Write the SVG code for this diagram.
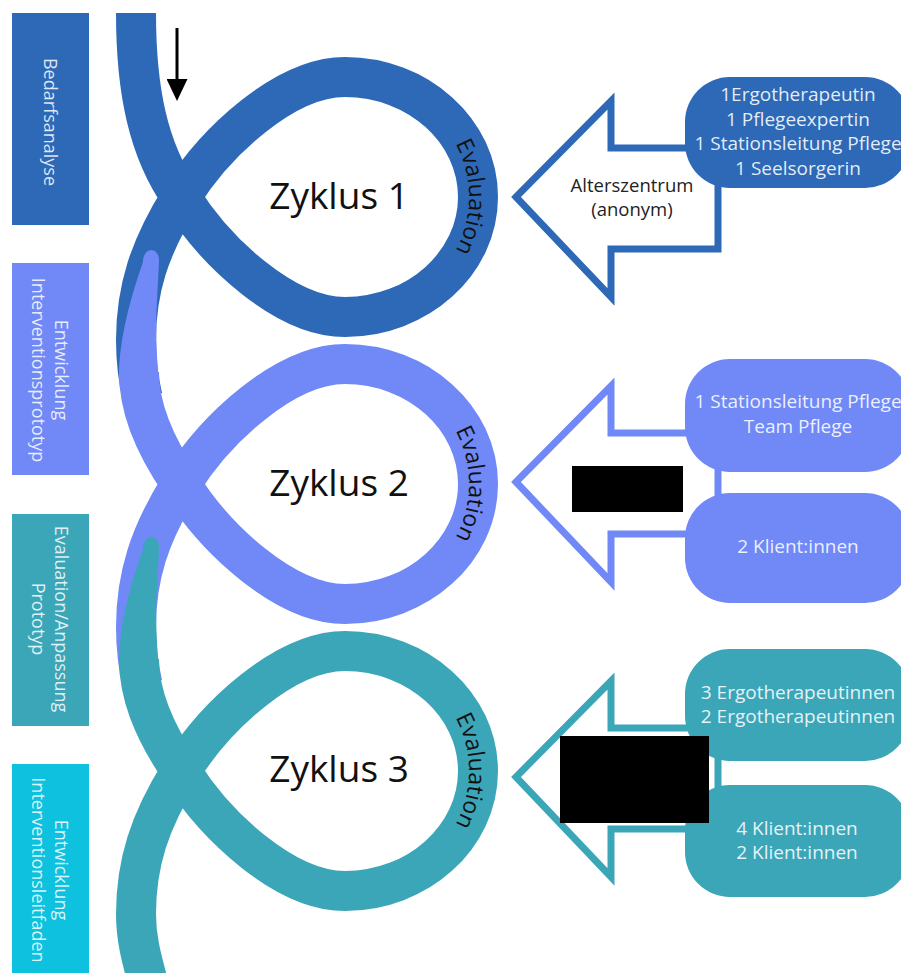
<svg xmlns="http://www.w3.org/2000/svg" width="901" height="973" viewBox="0 0 901 973">
  <style>
    .phase { font-family: "Open Sans", "Liberation Sans", sans-serif; font-size: 18px; fill: #ffffff; fill-opacity: 0.85; text-anchor: middle; }
    .strand { fill: none; stroke-width: 40; stroke-linecap: butt; stroke-linejoin: round; }
    .zyk { font-family: "Open Sans", "Liberation Sans", sans-serif; font-size: 37px; fill: #111111; text-anchor: middle; }
    .eval { font-family: "Open Sans", "Liberation Sans", sans-serif; font-size: 23px; fill: #111111; text-anchor: middle; }
    .hollow { fill: #ffffff; stroke-width: 7; stroke-linejoin: miter; }
    .pbox { font-family: "Open Sans", "Liberation Sans", sans-serif; font-size: 19px; fill: #ffffff; fill-opacity: 0.88; text-anchor: middle; }
    .az { font-family: "Open Sans", "Liberation Sans", sans-serif; font-size: 18.5px; fill: #222222; text-anchor: middle; }
    .blue { stroke: #2D69B7; }
    .peri { stroke: #7089F7; }
    .teal { stroke: #3CA6B9; }
  </style>
  <defs>
    <path id="ev1" d="M376.4,86.7 A112,112 0 0 1 376.4,307.3"/>
    <path id="ev2" d="M376.4,373.7 A112,112 0 0 1 376.4,594.3"/>
    <path id="ev3" d="M376.4,660.7 A112,112 0 0 1 376.4,881.3"/>
    <marker id="ah" markerUnits="userSpaceOnUse" markerWidth="22" markerHeight="21" viewBox="0 0 22 21" refX="11" refY="10.5" orient="auto">
      <path d="M0,0 L22,10.5 L0,21 Z" fill="#000000"/>
    </marker>
  </defs>
  <rect width="901" height="973" fill="#ffffff"/>

  <!-- phase boxes -->
  <g id="phase-bedarfsanalyse">
    <rect x="12" y="13" width="77" height="212" fill="#2D69B7"/>
    <text class="phase" transform="translate(44,122) rotate(90)">Bedarfsanalyse</text>
  </g>
  <g id="phase-prototyp">
    <rect x="12" y="263" width="77" height="212" fill="#7089F7"/>
    <text class="phase" transform="translate(55,370) rotate(90)"><tspan x="0" dy="0">Entwicklung</tspan><tspan x="0" dy="23">Interventionsprototyp</tspan></text>
  </g>
  <g id="phase-anpassung">
    <rect x="12" y="514" width="77" height="212" fill="#3CA6B9"/>
    <text class="phase" transform="translate(55,619) rotate(90)"><tspan x="0" dy="0">Evaluation/Anpassung</tspan><tspan x="0" dy="23">Prototyp</tspan></text>
  </g>
  <g id="phase-leitfaden">
    <rect x="12" y="764" width="77" height="209" fill="#0EC1DF"/>
    <text class="phase" transform="translate(55,870) rotate(90)"><tspan x="0" dy="0">Entwicklung</tspan><tspan x="0" dy="23">Interventionsleitfaden</tspan></text>
  </g>

  <!-- cycle loops -->
  <g id="zyklus-1">
    <path class="strand blue" d="M136,13 C136,90 148,150 181,197 C215.5,252.3 285,317 345,317 C418,317 478,263 478,197 C478,131 418,77 345,77 C285,77 215.5,141.7 181,197 C149,248 136,290 136,340 C136,360 138.08,378.88 142.62,397.6"/>
    <text class="zyk" x="339" y="209">Zyklus 1</text>
    <text class="eval"><textPath href="#ev1" startOffset="50%">Evaluation</textPath></text>
  </g>
  <g id="zyklus-2">
    <path d="M143,262 C143,246 160,246 159,262 L157,300 C155,330 157,360 159,382 L119,382 C118,350 126,310 143,262 Z" fill="#7089F7"/>
    <path class="strand peri" d="M139,372 C139,405 151,440 181,484 C215.5,539.3 285,604 345,604 C418,604 478,550 478,484 C478,418 418,364 345,364 C285,364 215.5,428.7 181,484 C149,535 136,577 136,627 C136,647 138.08,665.88 142.62,684.6"/>
    <text class="zyk" x="339" y="496">Zyklus 2</text>
    <text class="eval"><textPath href="#ev2" startOffset="50%">Evaluation</textPath></text>
  </g>
  <g id="zyklus-3">
    <path d="M143,549 C143,533 160,533 159,549 L157,587 C155,617 157,647 159,669 L119,669 C118,637 126,597 143,549 Z" fill="#3CA6B9"/>
    <path class="strand teal" d="M139,659 C139,692 151,727 181,771 C215.5,826.3 285,891 345,891 C418,891 478,837 478,771 C478,705 418,651 345,651 C285,651 215.5,715.7 181,771 C149,822 136,864 136,914 C136,940 142,960 150,990"/>
    <text class="zyk" x="339" y="782">Zyklus 3</text>
    <text class="eval"><textPath href="#ev3" startOffset="50%">Evaluation</textPath></text>
  </g>

  <!-- hollow arrows and participant boxes -->
  <g id="arrow-1">
    <polygon class="hollow blue" points="516,197 611,101 611,148 718,148 718,249 611,249 611,297"/>
    <text class="az" x="632" y="192">Alterszentrum</text>
    <text class="az" x="632" y="216">(anonym)</text>
  </g>
  <g id="teilnehmende-1">
    <rect x="685" y="77" width="225" height="111" rx="45" fill="#2D69B7"/>
    <text class="pbox" x="798" y="101">1Ergotherapeutin</text>
    <text class="pbox" x="798" y="126">1 Pflegeexpertin</text>
    <text class="pbox" x="798" y="150">1 Stationsleitung Pflege</text>
    <text class="pbox" x="798" y="175">1 Seelsorgerin</text>
  </g>

  <g id="arrow-2">
    <polygon class="hollow peri" points="516,482 611,386 611,433 718,433 718,534 611,534 611,582"/>
  </g>
  <g id="teilnehmende-2a">
    <rect x="685" y="359" width="225" height="113" rx="45" fill="#7089F7"/>
    <text class="pbox" x="798" y="408">1 Stationsleitung Pflege</text>
    <text class="pbox" x="798" y="433">Team Pflege</text>
  </g>
  <g id="teilnehmende-2b">
    <rect x="685" y="493" width="225" height="110" rx="45" fill="#7089F7"/>
    <text class="pbox" x="798" y="553">2 Klient:innen</text>
  </g>
  <rect id="redaction-2" x="572" y="466" width="111" height="46" fill="#000000"/>

  <g id="arrow-3">
    <polygon class="hollow teal" points="516,777 611,681 611,728 718,728 718,829 611,829 611,877"/>
  </g>
  <g id="teilnehmende-3a">
    <rect x="685" y="649" width="225" height="112" rx="45" fill="#3CA6B9"/>
    <text class="pbox" x="798" y="699">3 Ergotherapeutinnen</text>
    <text class="pbox" x="798" y="723">2 Ergotherapeutinnen</text>
  </g>
  <g id="teilnehmende-3b">
    <rect x="685" y="785" width="225" height="112" rx="45" fill="#3CA6B9"/>
    <text class="pbox" x="797" y="835">4 Klient:innen</text>
    <text class="pbox" x="797" y="859">2 Klient:innen</text>
  </g>
  <rect id="redaction-3" x="560" y="736" width="149" height="87" fill="#000000"/>

  <!-- connectors -->
  <g id="connectors">
    <line x1="177" y1="28" x2="177" y2="90" stroke="#000000" stroke-width="3" marker-end="url(#ah)"/>
  </g>
</svg>
